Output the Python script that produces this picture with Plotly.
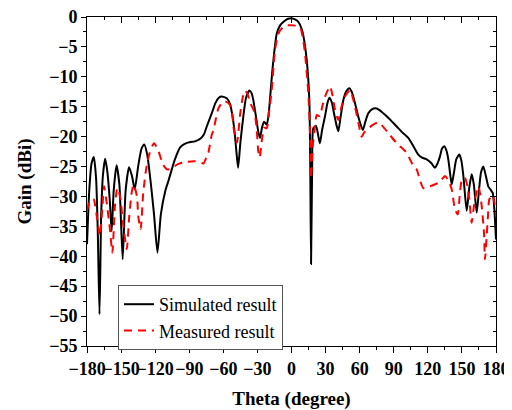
import plotly.graph_objects as go

theta_sim = [-180, -178, -176, -174, -172, -170.5, -169, -167.5, -166, -164, -162, -160, -158.3, -156.5, -154,
             -151.5, -148.6, -146, -143, -140.5, -138, -135, -132, -129.6, -127, -124, -121, -118, -115, -111,
             -108, -103, -98, -94, -89, -85, -80, -77, -74.6, -70, -67, -64, -61.4, -57, -54, -52, -50, -48.5,
             -47, -45, -42.4, -40, -37, -35, -33.6, -31, -29, -27.7, -26, -24.2, -21.8, -20, -19, -16.5, -13,
             -10, -7, -3, 0, 3, 6, 9, 10.5, 13.4, 15.7, 16.5, 17.2, 18.2, 19.2, 21.6, 23.5, 25, 27, 29.5, 31.5,
             33.3, 35.5, 37.4, 39.5, 41.2, 43, 45.6, 48, 50.9, 53, 55.9, 59, 62.7, 65, 67.6, 71, 75, 79, 83.8,
             88, 92.6, 97, 102.8, 107, 111.6, 115, 119, 123, 126.3, 128.5, 130.7, 132.5, 134.5, 136.5, 138,
             139.5, 141, 143, 145, 147.7, 149.5, 151.3, 154.2, 156.5, 158.6, 160.5, 163, 165, 166.8, 168.8,
             171, 173.2, 175, 177.1, 178.5, 180]
gain_sim = [-38, -29, -24.5, -23.4, -27, -36, -49.7, -33, -26.5, -23.7, -26, -30.5, -35.8, -29, -24.8,
            -28, -40.5, -29, -25.1, -26.5, -28.8, -25, -22, -21.3, -23, -27.5, -33, -39.4, -33, -29,
            -27.2, -24, -21.8, -21.2, -20.9, -20.8, -20.3, -19.6, -18.3, -16, -14.4, -13.5, -13.3, -13.6, -14.6, -16.5, -19.4, -22.5,
            -25.2, -21, -16.6, -13.5, -12.3, -12.8, -13.9, -17, -19.4, -20.2, -18.5, -17.5, -18.0, -16, -13.9, -8.3, -2.8,
            -1.4, -0.8, -0.3, -0.2, -0.4, -0.8, -2, -3.2, -7.2, -13.9, -25, -41.3, -25, -18.6, -18.2, -19.8, -21.1, -18.8, -16.6, -14.5,
            -13.5, -14.3, -16.1, -18, -19.1, -17, -13.9, -12.5, -11.9, -12.5, -14.4, -16.8, -18.9, -17.5, -16.1, -15.4, -15.3, -15.8, -16.6,
            -17.4, -18.3, -19.2, -20.2, -21.5, -23, -23.5, -23.8, -24.4, -25.2, -24.5, -23.3, -22, -21.6, -22.4, -23.8,
            -26, -28, -26, -23.8, -23, -24, -26.6, -32.4, -28.5, -26.3, -28, -32.7, -29, -26, -25,
            -26.5, -28.3, -28.8, -29.4, -32, -37.2]

theta_meas = [-180, -178, -176, -174, -173, -171, -168.6, -166.5, -165, -162.7, -159.8, -157.7, -155.4, -153.3,
              -151, -148, -145, -142.8, -140.7, -139, -136, -134.9, -132.8, -130.5, -128, -125, -121, -117, -113,
              -109, -105, -100, -95, -86, -80, -77.6, -75, -73.2, -70.2, -68.8, -64.4, -61, -58.5, -54.1, -52,
              -51.2, -48, -45.3, -43, -40.9, -38.5, -36, -33.5, -32.1, -30.6, -29.2, -28, -26, -24, -21.8, -19.5,
              -17.4, -14.5, -11.6, -8, -4.2, 1.6, 7.5, 10, 11.9, 14.8, 16.3, 17.2, 18.5, 20.7, 22.2, 25.1, 27,
              29.5, 33.9, 36, 38.3, 41.2, 44, 47.1, 51.5, 53.5, 55.9, 59, 61.8, 64, 67.6, 72, 76.4, 80, 85.2,
              92.6, 101.4, 104.3, 107, 110.2, 113, 116, 121.9, 126, 129.2, 132, 135.1, 138, 141, 143.9, 146.3,
              148, 149.8, 152.7, 155, 156.5, 158.6, 160, 161.5, 164.4, 166, 167.4, 169.4, 170.3, 171.8, 173,
              174.1, 177.1, 179.1, 180]
gain_meas = [-32.4, -31, -30.5, -30.5, -31.3, -33.8, -36.6, -32, -28.3, -31, -35.5, -39.4, -31.6, -28.6,
             -29.9, -34.9, -38.8, -33.3, -29.4, -28, -30, -33.3, -35.5, -29.4, -25.5, -22.8, -21.1, -22.5, -24.7,
             -25.5, -25.2, -24.6, -24.3, -24.1, -24.3, -24.5, -23.5, -22.7, -19.7, -19.0, -15.3, -14.3, -14.1, -14.7, -16.5,
             -18.3, -21, -16.4, -13.5, -12.3, -13, -14.5, -15.5, -16.4, -18.9, -22.5, -23.5, -20.5, -18.5, -18.6, -15.5,
             -12.2, -5.5, -2.8, -1.8, -1.4, -1.4, -1.7, -3.5, -6.1, -12.7, -19.4, -27, -22, -18.3, -16.4, -16.6, -15,
             -13.3, -11.6, -13, -15.5, -17.2, -15, -13.3, -12.2, -13.2, -15, -17.8, -20.0, -19.3, -18.6, -18, -17.6, -18.2, -19.4,
             -21.1, -22.7, -23.8, -24.8, -25.5, -27.2, -28.6, -28.3, -28, -27.7, -27.2, -26.6, -27.3, -28.8, -32.2, -33,
             -30, -27.4, -26.9, -28.5, -30.5, -34.4, -32.5, -30.5, -28.3, -29.5, -31.6, -36, -40.5, -36.6, -33,
             -30.5, -29.7, -31.6, -33]

x_ticks = [-180, -150, -120, -90, -60, -30, 0, 30, 60, 90, 120, 150, 180]
y_ticks = [0, -5, -10, -15, -20, -25, -30, -35, -40, -45, -50, -55]

FONT = "Liberation Serif, Times New Roman, serif"

fig = go.Figure()
fig.add_trace(go.Scatter(x=theta_sim, y=gain_sim, mode="lines", name="Simulated result",
                         line=dict(color="black", width=2, shape="spline", smoothing=0.6)))
fig.add_trace(go.Scatter(x=theta_meas, y=gain_meas, mode="lines", name="Measured result",
                         line=dict(color="#ff0000", width=2, dash="8px,6px", shape="spline", smoothing=0.6)))
fig.add_trace(go.Scatter(x=[None], y=[None], xaxis="x2", yaxis="y2", showlegend=False, hoverinfo="skip"))

axis_common = dict(showgrid=False, zeroline=False, linecolor="black", linewidth=1, tickcolor="black",
                   automargin=False, tickangle=0,
                   tickfont=dict(family=FONT, size=18, color="black", weight="bold"))

# page body has an 8px margin, so the figure is sized/offset accordingly
fig.update_layout(
    width=504, height=402,
    margin=dict(l=79, r=16, t=9, b=64),
    paper_bgcolor="white", plot_bgcolor="white",
    font=dict(family=FONT, color="black"),
    xaxis=dict(range=[-180, 180], tickvals=x_ticks, ticks="outside", ticklen=6, tickwidth=1,
               showline=True, mirror=True,
               minor=dict(dtick=15, ticks="outside", ticklen=3, tickcolor="black"),
               title=dict(text="Theta (degree)", font=dict(family=FONT, size=19, weight="bold"), standoff=16),
               **axis_common),
    yaxis=dict(range=[-55, 0], tickvals=y_ticks, ticks="outside", ticklen=5, tickwidth=1,
               showline=True, mirror=True,
               minor=dict(dtick=2.5, ticks="outside", ticklen=3, tickcolor="black"),
               title=dict(text="Gain (dBi)", font=dict(family=FONT, size=19, weight="bold"), standoff=12),
               **axis_common),
    xaxis2=dict(range=[-180, 180], overlaying="x", side="top", anchor="y2", tickvals=x_ticks,
                ticks="inside", ticklen=6, showticklabels=False, showgrid=False, zeroline=False,
                automargin=False,
                tickcolor="black", minor=dict(dtick=15, ticks="inside", ticklen=3, tickcolor="black")),
    yaxis2=dict(range=[-55, 0], overlaying="y", side="right", anchor="x2", tickvals=y_ticks,
                ticks="inside", ticklen=6, showticklabels=False, showgrid=False, zeroline=False,
                automargin=False,
                tickcolor="black", minor=dict(dtick=2.5, ticks="inside", ticklen=3, tickcolor="black")),
    legend=dict(x=0.0758, y=0.1854, xanchor="left", yanchor="top",
                bgcolor="white", bordercolor="#555555", borderwidth=1,
                font=dict(family=FONT, size=18, color="black"), tracegroupgap=0),
    showlegend=True,
)

fig.write_html("out.html")
